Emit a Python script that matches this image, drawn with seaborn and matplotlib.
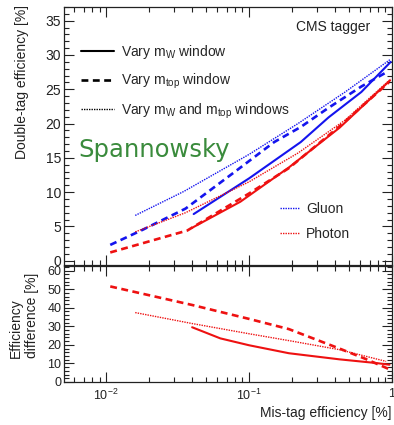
import numpy as np
import pandas as pd
import matplotlib
matplotlib.use("Agg")
import matplotlib.pyplot as plt
from matplotlib.lines import Line2D
from matplotlib.ticker import LogLocator, MultipleLocator, FixedLocator, NullFormatter
import seaborn as sns

# ---------------- data ----------------
# Top panel: double-tag efficiency [%] vs mis-tag efficiency [%]
gluon_w_x   = [0.041, 0.10, 0.23, 0.36, 0.61, 0.98]
gluon_w_y   = [6.8, 12.0, 17.3, 20.9, 24.6, 29.0]
gluon_top_x = [0.0107, 0.018, 0.036, 0.08, 0.15, 0.23, 0.36, 0.61, 0.90]
gluon_top_y = [2.3, 4.5, 7.6, 13.0, 17.3, 19.5, 22.3, 25.4, 27.4]
gluon_both_x = [0.016, 0.035, 0.10, 0.22, 0.47, 0.98]
gluon_both_y = [6.6, 10.1, 15.5, 20.0, 24.6, 29.4]

photon_w_x   = [0.040, 0.087, 0.19, 0.43, 0.97]
photon_w_y   = [4.8, 8.6, 13.6, 19.4, 26.3]
photon_top_x = [0.0107, 0.037, 0.10, 0.19, 0.43, 0.95]
photon_top_y = [1.2, 4.4, 9.8, 13.5, 19.6, 26.0]
photon_both_x = [0.016, 0.036, 0.10, 0.22, 0.47, 0.98]
photon_both_y = [4.2, 7.0, 11.5, 15.7, 20.5, 26.5]

# Bottom panel: efficiency difference [%]
diff_w_x    = [0.040, 0.063, 0.10, 0.19, 0.43, 0.78, 0.96]
diff_w_y    = [29.5, 23.5, 19.8, 15.5, 12.2, 10.2, 9.3]
diff_top_x  = [0.0107, 0.040, 0.10, 0.19, 0.43, 0.65, 0.95]
diff_top_y  = [51.5, 41.5, 34.0, 28.5, 18.0, 12.5, 7.0]
diff_both_x = [0.016, 0.040, 0.10, 0.20, 0.43, 0.91]
diff_both_y = [37.4, 31.5, 26.0, 22.0, 17.4, 11.1]

legend_labels = ["Vary m$_\\mathrm{W}$ window",
                 "Vary m$_\\mathrm{top}$ window",
                 "Vary m$_\\mathrm{W}$ and m$_\\mathrm{top}$ windows"]
sample_labels = ["Gluon", "Photon"]
xtick_vals = [0.01, 0.1, 1.0]
xtick_labels = ["10$^{-2}$", "10$^{-1}$", "1"]

# ---------------- style ----------------
sns.set_theme(style="ticks")
plt.rcParams['font.family'] = ['Liberation Sans', 'DejaVu Sans']
plt.rcParams['mathtext.fontset'] = 'custom'
plt.rcParams['mathtext.rm'] = 'Liberation Sans'
plt.rcParams['mathtext.it'] = 'Liberation Sans:italic'
plt.rcParams['mathtext.bf'] = 'Liberation Sans:bold'

BLUE = "#1414ee"
RED = "#ee1111"
SOLID = "-"
DASHED = (0, (2.6, 1.7))
DOTTED = (0, (1.0, 0.8))

fig = plt.figure(figsize=(3.94, 4.25), dpi=100)
L, R = 64 / 394, 392 / 394
ax1 = fig.add_axes([L, 1 - 265 / 425, R - L, (265 - 7) / 425])
ax2 = fig.add_axes([L, 1 - 382 / 425, R - L, (382 - 266) / 425])

def draw(ax, x, y, color, ls, lw):
    sns.lineplot(x=x, y=y, ax=ax, color=color, linestyle=ls, linewidth=lw,
                 estimator=None, sort=False, legend=False)

# top panel
draw(ax1, gluon_both_x, gluon_both_y, BLUE, DOTTED, 1.0)
draw(ax1, gluon_top_x, gluon_top_y, BLUE, DASHED, 1.9)
draw(ax1, gluon_w_x, gluon_w_y, BLUE, SOLID, 1.5)
draw(ax1, photon_both_x, photon_both_y, RED, DOTTED, 1.0)
draw(ax1, photon_top_x, photon_top_y, RED, DASHED, 1.9)
draw(ax1, photon_w_x, photon_w_y, RED, SOLID, 1.5)

# bottom panel
draw(ax2, diff_top_x, diff_top_y, RED, DASHED, 1.9)
draw(ax2, diff_both_x, diff_both_y, RED, DOTTED, 1.0)
draw(ax2, diff_w_x, diff_w_y, RED, SOLID, 1.5)

for ax in (ax1, ax2):
    ax.set_xscale("log")
    ax.set_xlim(0.00508, 1.0)
    ax.xaxis.set_major_locator(FixedLocator(xtick_vals))
    ax.xaxis.set_minor_locator(LogLocator(base=10, subs=np.arange(2, 10)))
    ax.xaxis.set_minor_formatter(NullFormatter())
    ax.tick_params(which="both", direction="in", top=True, right=True,
                   colors="#222222", labelcolor="#222222", width=0.8)
    ax.tick_params(which="major", length=7, labelsize=10)
    ax.tick_params(which="minor", length=3.5)
    for s in ax.spines.values():
        s.set_linewidth(0.9)
        s.set_color("#222222")
    ax.set_xlabel("")
    ax.set_ylabel("")

ax1.set_ylim(-0.63, 37.0)
ax1.yaxis.set_major_locator(MultipleLocator(5))
ax1.yaxis.set_minor_locator(MultipleLocator(1))
ax1.set_xticklabels([])
ax1.tick_params(axis="y", which="major", pad=2)

ax2.set_ylim(0, 62.5)
ax2.yaxis.set_major_locator(MultipleLocator(10))
ax2.yaxis.set_minor_locator(MultipleLocator(2))
ax2.set_xticklabels(xtick_labels)
ax2.tick_params(axis="both", which="major", labelsize=9)
ax2.tick_params(axis="x", which="major", pad=4)
ax2.tick_params(axis="y", which="major", pad=2)

# legends
style_handles = [Line2D([], [], color="black", linestyle=SOLID, linewidth=1.5),
                 Line2D([], [], color="black", linestyle=DASHED, linewidth=1.9),
                 Line2D([], [], color="black", linestyle=DOTTED, linewidth=1.0)]
leg1 = ax1.legend(style_handles, legend_labels, loc="upper left",
                  bbox_to_anchor=(0.052, 0.86), frameon=False, borderpad=0,
                  borderaxespad=0, handlelength=2.4, handletextpad=0.5,
                  labelspacing=0.75, fontsize=10)
ax1.add_artist(leg1)
sample_handles = [Line2D([], [], color=BLUE, linestyle=DOTTED, linewidth=1.0),
                  Line2D([], [], color=RED, linestyle=DOTTED, linewidth=1.0)]
ax1.legend(sample_handles, sample_labels, loc="upper left",
           bbox_to_anchor=(0.66, 0.245), frameon=False, borderpad=0,
           borderaxespad=0, handlelength=1.3, handletextpad=0.55,
           labelspacing=0.8, fontsize=10)

ax1.text(0.933, 0.922, "CMS tagger", transform=ax1.transAxes,
         ha="right", va="center", fontsize=10, color="#222222")
ax1.text(0.043, 0.446, "Spannowsky", transform=ax1.transAxes,
         ha="left", va="center", fontsize=17.5, color="#3a8b3c",
         family="DejaVu Sans")

fig.text(22 / 394, 1 - 5 / 425, "Double-tag efficiency [%]", rotation=90,
         ha="center", va="top", fontsize=10, color="#222222")
fig.text(24 / 394, 1 - 273 / 425, "Efficiency\ndifference [%]", rotation=90,
         ha="center", va="top", multialignment="left", linespacing=1.2,
         fontsize=10, color="#222222")
fig.text(392 / 394, 1 - 413 / 425, "Mis-tag efficiency [%]",
         ha="right", va="center", fontsize=10, color="#222222")

fig.savefig("out.png", dpi=100, facecolor="white")
